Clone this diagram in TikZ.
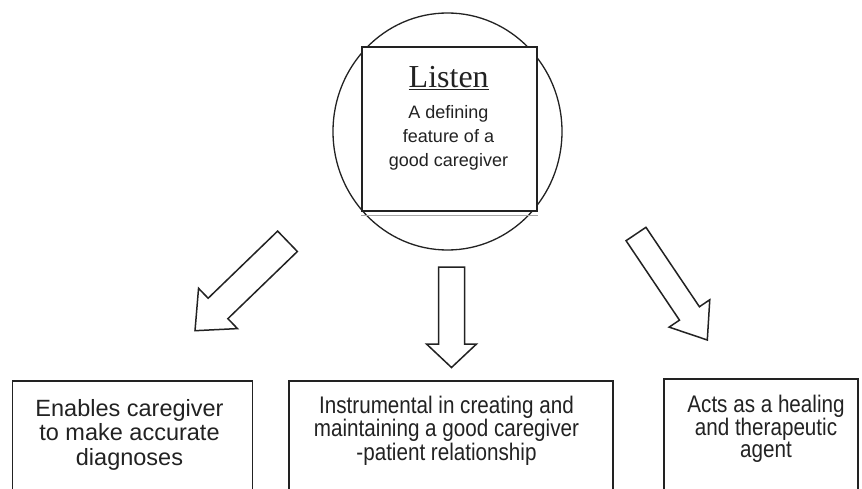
\documentclass[tikz,border=0pt]{standalone}
\usepackage{fontspec}
\usetikzlibrary{calc,shapes.geometric}
\newfontfamily\serifT{Liberation Serif}
\newfontfamily\sansA{Liberation Sans}
\newfontfamily\sansN[FakeStretch=0.86]{Liberation Sans}
\definecolor{ink}{HTML}{222222}
\tikzset{
  outline/.style={draw=ink, line width=1.3pt},
  boxshape/.style={draw=ink, line width=1.6pt, rectangle, inner sep=0pt, anchor=north west},
  blockarr/.style={draw=ink, line width=1.5pt, line join=miter, fill=white},
  txt/.style={inner sep=0pt, anchor=base, align=center, text=ink},
}
\newcommand\blockarrow[6]{%
  \coordinate (#1h) at ($(#3)!#6!(#2)$);
  \draw[blockarr] ($(#2)!#4!90:(#3)$) -- ($(#1h)!#4!90:(#3)$) -- ($(#1h)!#5!90:(#3)$) -- (#3)
     -- ($(#1h)!#5!-90:(#3)$) -- ($(#1h)!#4!-90:(#3)$) -- ($(#2)!#4!-90:(#3)$) -- cycle;
}
\begin{document}
\begin{tikzpicture}[x=1pt,y=-1pt]
\path[use as bounding box, clip] (0,0) rectangle (862,489);
\fill[white] (0,0) rectangle (862,489);
% central circle and square
\node[outline, ellipse, minimum width=229pt, minimum height=237pt, inner sep=0pt] (circ) at (447.5,131.5) {};
\node[draw=ink, line width=1.8pt, fill=white, rectangle, minimum width=175pt, minimum height=164pt, inner sep=0pt] (sq) at (449.5,129) {};
\draw[gray!70, line width=1.2pt] ([yshift=-3.5pt]sq.south west) -- ([yshift=-3.5pt]sq.south east);
\node[txt, font=\serifT\fontsize{32}{32}\selectfont] (ttl) at (448.7,87.3) {Listen};
\draw[ink, line width=1.4pt] ([yshift=-2.5pt]ttl.base west) -- ([yshift=-2.5pt]ttl.base east);
\node[txt, font=\sansA\fontsize{18}{24.2}\selectfont] (sub) at (448.5,166.7) {A defining\\feature of a\\good caregiver};
% bottom boxes
\node[boxshape, minimum width=240pt, minimum height=130pt] (b1) at (11.7,380) {};
\node[boxshape, minimum width=324pt, minimum height=130pt] (b2) at (288.3,380) {};
\node[boxshape, minimum width=194pt, minimum height=130pt] (b3) at (663.3,378.3) {};
\node[txt, font=\sansA\fontsize{23.5}{24.5}\selectfont] (t1) at (129.5,465) {Enables caregiver\\to make accurate\\diagnoses};
\node[txt, font=\sansN\fontsize{24}{23.5}\selectfont] (t2) at (446.5,460) {Instrumental in creating and\\maintaining a good caregiver\\-patient relationship};
\node[txt, font=\sansN\fontsize{24}{22.5}\selectfont] (t3) at (766,457.5) {Acts as a healing\\and therapeutic\\agent};
% block arrows
\coordinate (la) at (287.5,241.3);
\coordinate (lb) at (195,330.7);
\coordinate (ma) at (451.5,267);
\coordinate (mb) at (451.5,367.5);
\coordinate (ra) at (636,234);
\coordinate (rb) at (707.3,340);
\blockarrow{L}{la}{lb}{14.2pt}{28pt}{32pt}
\blockarrow{M}{ma}{mb}{13pt}{25pt}{23.5pt}
\blockarrow{R}{ra}{rb}{12pt}{24.5pt}{32pt}
\end{tikzpicture}
\end{document}
